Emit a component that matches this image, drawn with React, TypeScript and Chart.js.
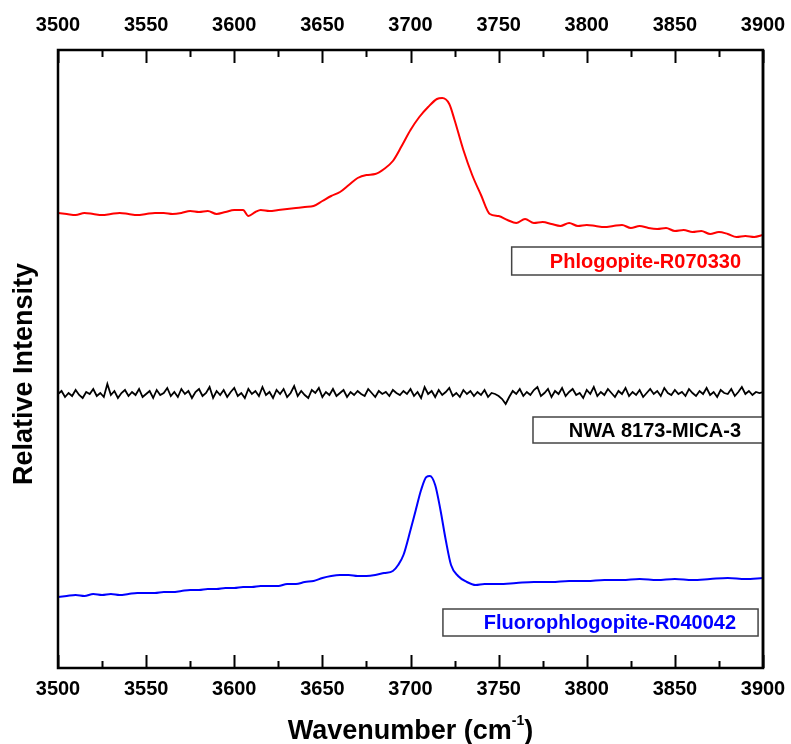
import React, { useEffect, useRef } from "react";
import { Chart, registerables } from "chart.js";

Chart.register(...registerables);

// ---- Data (arbitrary intensity units) ----
const RED_WN = [3500,3505,3510,3515,3520,3525,3530,3535,3540,3545,3550,3555,3560,3565,3570,3575,3580,3585,3590,3595,3600,3605,3608,3612,3615,3620,3625,3630,3635,3640,3645,3650,3655,3660,3665,3670,3675,3680,3685,3690,3695,3700,3705,3710,3715,3718,3722,3725,3730,3735,3740,3745,3750,3755,3760,3765,3770,3775,3780,3785,3790,3795,3800,3805,3810,3815,3820,3825,3830,3835,3840,3845,3850,3855,3860,3865,3870,3875,3880,3885,3890,3895,3900];
const RED_I = [455,454,453,455,454,453,454,455,454,453,454,455,455,454,455,457,456,457,454,456,458,458,452,456,458,457,458,459,460,461,462,467,472,476,483,490,493,494,499,507,522,538,551,561,569,570,564,548,518,493,473,454,452,448,445,449,445,446,444,442,445,442,443,442,441,442,443,440,442,440,439,440,437,438,436,437,434,436,434,431,432,431,433];

const BLUE_WN = [3500,3505,3510,3515,3520,3525,3530,3535,3540,3545,3550,3555,3560,3565,3570,3575,3580,3585,3590,3595,3600,3605,3610,3615,3620,3625,3630,3635,3640,3645,3650,3655,3660,3665,3670,3675,3680,3685,3690,3693,3696,3700,3703,3706,3709,3711,3714,3717,3720,3723,3727,3732,3737,3742,3750,3760,3770,3780,3790,3800,3810,3820,3830,3840,3850,3860,3870,3880,3890,3900];
const BLUE_I = [71,72,73,72,74,73,74,73,74,75,75,75,76,76,77,78,78,79,79,80,80,81,81,82,82,82,84,84,86,87,90,92,93,93,92,92,93,95,97,103,113,138,158,178,191,192,183,158,128,103,92,86,83,84,84,85,86,86,87,87,88,88,89,88,89,88,89,90,89,90];

// NWA 8173-MICA-3: noisy flat trace sampled every 2 cm-1 from 3500
const NWA_START = 3500;
const NWA_STEP = 2;
const NWA_I = [
274,277,271,275,272,278,273,270,276,274,279,272,275,271,284,273,277,270,275,278,
272,276,273,279,271,274,277,270,278,273,275,280,272,276,271,279,274,277,270,276,
279,272,275,281,270,277,273,278,271,276,280,272,275,270,279,274,277,272,281,273,
276,270,278,274,279,271,275,282,272,277,273,270,278,275,280,271,276,273,279,272,
275,278,271,276,273,277,274,272,279,275,271,277,274,276,272,278,275,273,277,274,
279,272,276,270,281,274,277,271,278,273,276,280,272,275,271,278,274,277,272,276,
273,278,271,275,274,272,269,264,271,277,274,279,272,276,273,278,281,272,275,279,
271,277,274,280,272,276,279,273,275,270,278,274,281,272,276,273,279,275,271,277,
274,280,272,276,273,278,271,275,279,274,277,272,280,275,273,278,274,276,272,279,
275,272,277,274,280,273,276,271,278,275,274,279,272,276,281,274,277,273,276,275,
276];

const X_MIN = 3500;
const X_MAX = 3900;
const X_MAJOR = 50;
const Y_MIN = 0;
const Y_MAX = 618;

const SERIES_NAMES = ["Phlogopite-R070330", "NWA 8173-MICA-3", "Fluorophlogopite-R040042"];
const SERIES_COLORS = ["#ff0000", "#000000", "#0000ff"];

// label boxes in data coordinates
const LABEL_BOXES = [
  { x1: 3757.4, x2: 3900, yTop: 421, yBottom: 393 },
  { x1: 3769.5, x2: 3900, yTop: 251, yBottom: 225 },
  { x1: 3718.4, x2: 3897.2, yTop: 59, yBottom: 32 },
];

const FONT = '"Liberation Sans", Arial, Helvetica, sans-serif';

const toPoints = (xs: number[], ys: number[]) => xs.map((x, i) => ({ x, y: ys[i] }));

const decorPlugin = {
  id: "decor",
  afterDraw(chart: any) {
    const ctx = chart.ctx;
    const { left, right, top, bottom } = chart.chartArea;
    const xs = chart.scales.x;
    const ys = chart.scales.y;
    ctx.save();
    // frame
    ctx.strokeStyle = "#000";
    ctx.lineWidth = 2.5;
    ctx.strokeRect(left, top, right - left, bottom - top);
    // inward ticks top & bottom
    ctx.lineWidth = 2;
    for (let v = X_MIN; v <= X_MAX; v += X_MAJOR / 2) {
      const px = Math.round(xs.getPixelForValue(v)) + 0.5;
      const major = (v - X_MIN) % X_MAJOR === 0;
      const len = major ? 13 : 7;
      ctx.beginPath();
      ctx.moveTo(px, bottom);
      ctx.lineTo(px, bottom - len);
      ctx.moveTo(px, top);
      ctx.lineTo(px, top + len);
      ctx.stroke();
    }
    // label boxes
    LABEL_BOXES.forEach((b, i) => {
      const bx1 = xs.getPixelForValue(b.x1);
      const bx2 = xs.getPixelForValue(b.x2);
      const by1 = ys.getPixelForValue(b.yTop);
      const by2 = ys.getPixelForValue(b.yBottom);
      ctx.fillStyle = "#fff";
      ctx.fillRect(bx1, by1, bx2 - bx1, by2 - by1);
      ctx.strokeStyle = "#444";
      ctx.lineWidth = 1.5;
      ctx.strokeRect(bx1, by1, bx2 - bx1, by2 - by1);
      ctx.fillStyle = SERIES_COLORS[i];
      ctx.font = `bold 20px ${FONT}`;
      ctx.textAlign = "right";
      ctx.textBaseline = "middle";
      ctx.fillText(SERIES_NAMES[i], bx2 - 22, (by1 + by2) / 2 + 1);
    });
    // re-stroke right frame edge over boxes
    ctx.strokeStyle = "#000";
    ctx.lineWidth = 2.5;
    ctx.beginPath();
    ctx.moveTo(right, top);
    ctx.lineTo(right, bottom);
    ctx.stroke();

    // x title with superscript
    ctx.fillStyle = "#000";
    ctx.textBaseline = "alphabetic";
    ctx.textAlign = "left";
    const mainFont = `bold 27px ${FONT}`;
    const supFont = `bold 14px ${FONT}`;
    const part1 = "Wavenumber (cm";
    const sup = "-1";
    const part3 = ")";
    ctx.font = mainFont;
    const w1 = ctx.measureText(part1).width;
    const w3 = ctx.measureText(part3).width;
    ctx.font = supFont;
    const w2 = ctx.measureText(sup).width;
    const total = w1 + w2 + w3;
    const cx = (left + right) / 2;
    const x0 = cx - total / 2;
    const base = 739;
    ctx.font = mainFont;
    ctx.fillText(part1, x0, base);
    ctx.font = supFont;
    ctx.fillText(sup, x0 + w1, base - 14);
    ctx.font = mainFont;
    ctx.fillText(part3, x0 + w1 + w2, base);

    // y title
    ctx.save();
    ctx.translate(25, 374);
    ctx.rotate(-Math.PI / 2);
    ctx.font = `bold 27px ${FONT}`;
    ctx.textAlign = "center";
    ctx.textBaseline = "middle";
    ctx.fillText("Relative Intensity", 0, 0);
    ctx.restore();

    ctx.restore();
  },
};

export default function App() {
  const ref = useRef<HTMLCanvasElement | null>(null);
  useEffect(() => {
    if (!ref.current) return;
    const tickFont = { family: FONT, size: 20, weight: "bold" as const };
    const xTicks = (padding: number) => ({
      stepSize: X_MAJOR,
      autoSkip: false,
      maxRotation: 0,
      color: "#000",
      font: tickFont,
      padding,
      callback: (v: any) => String(v),
    });
    const fitX = (h: number) => (s: any) => {
      s.height = h;
      s.paddingLeft = 0;
      s.paddingRight = 0;
    };
    const chart = new Chart(ref.current, {
      type: "line",
      data: {
        datasets: [
          {
            label: SERIES_NAMES[0],
            data: toPoints(RED_WN, RED_I),
            borderColor: SERIES_COLORS[0],
            borderWidth: 2,
            pointRadius: 0,
            cubicInterpolationMode: "monotone",
          },
          {
            label: SERIES_NAMES[1],
            data: NWA_I.map((v, i) => ({ x: NWA_START + i * NWA_STEP, y: v })),
            borderColor: SERIES_COLORS[1],
            borderWidth: 1.8,
            pointRadius: 0,
            tension: 0,
          },
          {
            label: SERIES_NAMES[2],
            data: toPoints(BLUE_WN, BLUE_I),
            borderColor: SERIES_COLORS[2],
            borderWidth: 2,
            pointRadius: 0,
            cubicInterpolationMode: "monotone",
          },
        ],
      },
      options: {
        animation: false,
        responsive: false,
        layout: { padding: 0 },
        plugins: { legend: { display: false }, tooltip: { enabled: false } },
        scales: {
          x: {
            type: "linear",
            position: "bottom",
            min: X_MIN,
            max: X_MAX,
            grid: { display: false, drawTicks: false },
            border: { display: false },
            ticks: xTicks(9),
            afterFit: fitX(76),
          },
          x2: {
            type: "linear",
            position: "top",
            min: X_MIN,
            max: X_MAX,
            grid: { display: false, drawTicks: false },
            border: { display: false },
            ticks: xTicks(13),
            afterFit: fitX(50),
          },
          y: {
            type: "linear",
            position: "left",
            min: Y_MIN,
            max: Y_MAX,
            grid: { display: false, drawTicks: false },
            border: { display: false },
            ticks: { display: false },
            afterFit: (s: any) => { s.width = 58; s.paddingTop = 0; s.paddingBottom = 0; },
          },
          y2: {
            type: "linear",
            position: "right",
            min: Y_MIN,
            max: Y_MAX,
            grid: { display: false, drawTicks: false },
            border: { display: false },
            ticks: { display: false },
            afterFit: (s: any) => { s.width = 28; s.paddingTop = 0; s.paddingBottom = 0; },
          },
        },
      } as any,
      plugins: [decorPlugin],
    });
    return () => chart.destroy();
  }, []);
  return (
    <div style={{ position: "absolute", left: 0, top: 0, width: 791, height: 744, background: "#fff" }}>
      <canvas ref={ref} width={791} height={744} />
    </div>
  );
}
